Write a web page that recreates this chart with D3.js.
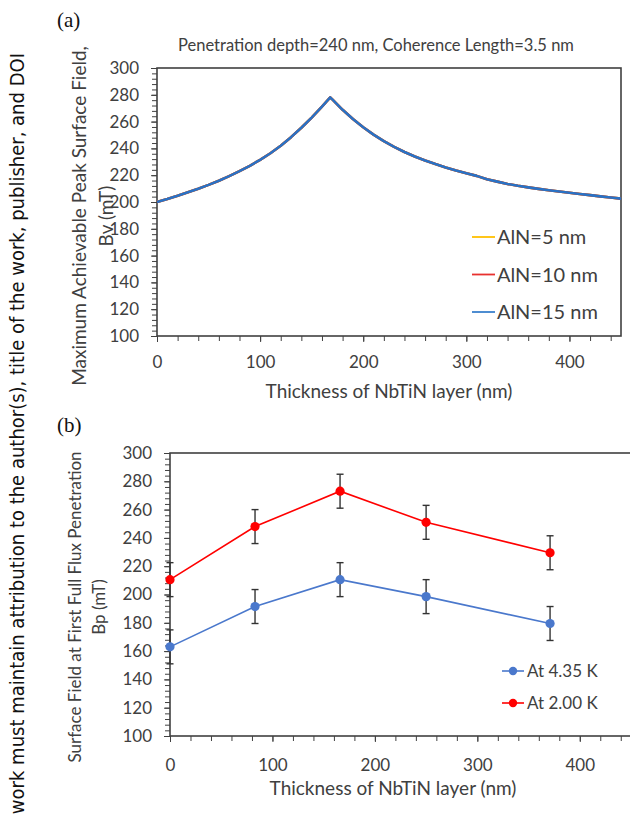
<!DOCTYPE html>
<html>
<head>
<meta charset="UTF-8">
<title>Peak Surface Field vs NbTiN thickness</title>
<script src="https://d3js.org/d3.v7.min.js"></script>
<style>
	body { margin: 0; background: #fff; }
	svg { display: block; }
</style>
</head>
<body>
<svg id="chart" width="630" height="814"></svg>
<script type="text/javascript">
	// panel (a): calculated Bv curve (the three AlN curves coincide)
	var thicknessA = [0, 10, 20, 30, 40, 50, 60, 70, 80, 90, 100, 110, 120, 130, 140, 150, 160, 168,
		170, 180, 190, 200, 210, 220, 230, 240, 250, 260, 270, 280, 290, 300, 310, 320, 330, 340,
		350, 360, 370, 380, 390, 400, 410, 420, 430, 440, 450];
	var bvCurve = [200, 202.2, 204.6, 207.2, 209.9, 212.8, 215.9, 219.3, 223, 227, 231.5, 236.4, 242, 248.4,
		255.4, 263, 271.2, 278, 276.6, 268.8, 262, 255.8, 250.3, 245.4, 241.1, 237.3, 234, 231, 228.3,
		225.8, 223.5, 221.4, 219.5, 217, 215.2, 213.5, 212.1, 210.9, 209.8, 208.8, 207.8, 206.9, 206,
		205.1, 204.2, 203.4, 202.5];
	var seriesNamesA = ["AlN=5 nm", "AlN=10 nm", "AlN=15 nm"];
	var seriesColorsA = ["#ffc000", "#e8312f", "#3a80cc"];

	// panel (b): measured Bp with error bars
	var thicknessB = [0, 83, 166, 250, 371];
	var bp435 = [163, 191.5, 210.5, 198.5, 179.5];
	var bp200 = [210.5, 248, 273, 251, 229.5];
	var bpErr = [12, 12, 12, 12, 12];
	var seriesNamesB = ["At 4.35 K", "At 2.00 K"];
	var seriesColorsB = ["#4a78cc", "#ff0000"];

	var xTicks = [0, 100, 200, 300, 400];
	var yTicks = [100, 120, 140, 160, 180, 200, 220, 240, 260, 280, 300];

	var chartFont = "Lato, 'Open Sans', sans-serif";
	var axisColor = "#404040";
	var textColor = "#404040";

	var svg = d3.select("#chart");

	// watermark along the left edge
	svg.append("text")
		.attr("transform", "translate(24,53) rotate(-90)")
		.attr("text-anchor", "end")
		.style("font-family", "'Liberation Sans Narrow', 'DejaVu Sans Condensed', sans-serif")
		.style("font-size", "20px")
		.attr("fill", "#111")
		.text("work must maintain attribution to the author(s), title of the work, publisher, and DOI");

	function drawFrame(g, x, y, opts)
	{
		var r = x.range(), b = y.range();

		// minor ticks
		g.append("g")
			.attr("transform", "translate(" + r[0] + ",0)")
			.call(d3.axisLeft(y).tickValues(d3.range(100, 301, 4)).tickSize(5).tickFormat(""))
			.call(function(a) { a.select(".domain").remove(); a.selectAll("line").attr("stroke", axisColor); });
		g.append("g")
			.attr("transform", "translate(0," + b[0] + ")")
			.call(d3.axisBottom(x).tickValues(d3.range(0, 451, 20)).tickSize(5).tickFormat(""))
			.call(function(a) { a.select(".domain").remove(); a.selectAll("line").attr("stroke", axisColor); });

		// labelled axes
		g.append("g")
			.attr("transform", "translate(" + r[0] + ",0)")
			.call(d3.axisLeft(y).tickValues(yTicks).tickSize(6).tickPadding(opts.yPad))
			.call(function(a)
			{
				a.select(".domain").remove();
				a.selectAll("line").attr("stroke", axisColor);
				a.selectAll("text").attr("fill", textColor).style("font-family", chartFont).style("font-size", "17px");
			});
		g.append("g")
			.attr("transform", "translate(0," + b[0] + ")")
			.call(d3.axisBottom(x).tickValues(xTicks).tickSize(6).tickPadding(opts.xPad))
			.call(function(a)
			{
				a.select(".domain").remove();
				a.selectAll("line").attr("stroke", axisColor);
				a.selectAll("text").attr("fill", textColor).style("font-family", chartFont).style("font-size", "17px");
			});

		// plot box
		g.append("rect")
			.attr("x", r[0]).attr("y", b[1])
			.attr("width", r[1] - r[0]).attr("height", b[0] - b[1])
			.attr("fill", "none").attr("stroke", axisColor).attr("stroke-width", 1.6);

		// x title
		g.append("text")
			.attr("x", opts.xTitleX).attr("y", opts.xTitleY)
			.attr("text-anchor", "middle")
			.attr("fill", textColor)
			.style("font-family", chartFont).style("font-size", "19px")
			.text("Thickness of NbTiN layer (nm)");

		// y title, two lines
		var yt = g.append("text")
			.attr("transform", "translate(" + opts.yTitleX + "," + opts.yTitleY + ") rotate(-90)")
			.attr("text-anchor", "middle")
			.attr("fill", textColor)
			.style("font-family", chartFont).style("font-size", opts.yFont);
		yt.append("tspan").attr("x", 0).attr("dy", 0).text(opts.yTitle1);
		yt.append("tspan").attr("x", 0).attr("dy", opts.yLineGap).text(opts.yTitle2);
	}

	// ---------- panel (a) ----------
	var xa = d3.scaleLinear().domain([0, 450]).range([157, 621]);
	var ya = d3.scaleLinear().domain([100, 300]).range([336, 68]);
	var ga = svg.append("g");

	svg.append("text")
		.attr("x", 57).attr("y", 27)
		.style("font-family", "'Liberation Serif', 'DejaVu Serif', serif")
		.style("font-size", "21px").attr("fill", "#111")
		.text("(a)");

	ga.append("text")
		.attr("x", 376).attr("y", 51)
		.attr("text-anchor", "middle")
		.attr("fill", textColor)
		.style("font-family", chartFont).style("font-size", "16.5px")
		.text("Penetration depth=240 nm, Coherence Length=3.5 nm");

	drawFrame(ga, xa, ya, {
		yPad: 12, xPad: 14,
		xTitleX: 389, xTitleY: 398,
		yTitleX: 86, yTitleY: 216, yLineGap: 27, yFont: "19px",
		yTitle1: "Maximum Achievable Peak Surface  Field,",
		yTitle2: "Bv (mT)"
	});

	var lineA = d3.line()
		.x(function(d) { return xa(d[0]); })
		.y(function(d) { return ya(d[1]); });

	var curvePts = thicknessA.map(function(t, i) { return [t, bvCurve[i]]; });

	seriesNamesA.forEach(function(name, i)
	{
		ga.append("path")
			.datum(curvePts)
			.attr("d", lineA)
			.attr("fill", "none")
			.attr("stroke", i == 2 ? "#2a72c4" : seriesColorsA[i])
			.attr("stroke-width", 2.6)
			.attr("stroke-linejoin", "round");

		var ly = 237 + i * 37.5;
		ga.append("line")
			.attr("x1", 472).attr("x2", 495)
			.attr("y1", ly).attr("y2", ly)
			.attr("stroke", seriesColorsA[i]).attr("stroke-width", 1.8);
		ga.append("text")
			.attr("x", 497).attr("y", ly)
			.attr("dy", "0.35em")
			.attr("fill", textColor)
			.style("font-family", chartFont).style("font-size", "20px")
			.text(name);
	});

	// ---------- panel (b) ----------
	var xb = d3.scaleLinear().domain([0, 450]).range([170, 631]);
	var yb = d3.scaleLinear().domain([100, 300]).range([736, 453]);
	var gb = svg.append("g");

	svg.append("text")
		.attr("x", 57).attr("y", 432)
		.style("font-family", "'Liberation Serif', 'DejaVu Serif', serif")
		.style("font-size", "21px").attr("fill", "#111")
		.text("(b)");

	drawFrame(gb, xb, yb, {
		yPad: 12, xPad: 17,
		xTitleX: 393, xTitleY: 795,
		yTitleX: 81, yTitleY: 607, yLineGap: 24, yFont: "17px",
		yTitle1: "Surface Field at First Full Flux Penetration",
		yTitle2: "Bp (mT)"
	});

	var lineB = d3.line()
		.x(function(d) { return xb(d.x); })
		.y(function(d) { return yb(d.y); });

	[bp435, bp200].forEach(function(vals, s)
	{
		var pts = thicknessB.map(function(t, i) { return { x: t, y: vals[i], e: bpErr[i] }; });
		var color = seriesColorsB[s];

		gb.append("path")
			.datum(pts)
			.attr("d", lineB)
			.attr("fill", "none")
			.attr("stroke", color)
			.attr("stroke-width", 1.6);

		var eb = gb.selectAll("g.err" + s)
			.data(pts)
			.enter().append("g")
			.attr("stroke", "#333")
			.attr("stroke-width", 1.4);
		eb.append("line")
			.attr("x1", function(d) { return xb(d.x); })
			.attr("x2", function(d) { return xb(d.x); })
			.attr("y1", function(d) { return yb(d.y - d.e); })
			.attr("y2", function(d) { return yb(d.y + d.e); });
		eb.append("line")
			.attr("x1", function(d) { return xb(d.x) - 3.5; })
			.attr("x2", function(d) { return xb(d.x) + 3.5; })
			.attr("y1", function(d) { return yb(d.y + d.e); })
			.attr("y2", function(d) { return yb(d.y + d.e); });
		eb.append("line")
			.attr("x1", function(d) { return xb(d.x) - 3.5; })
			.attr("x2", function(d) { return xb(d.x) + 3.5; })
			.attr("y1", function(d) { return yb(d.y - d.e); })
			.attr("y2", function(d) { return yb(d.y - d.e); });

		gb.selectAll("circle.pt" + s)
			.data(pts)
			.enter().append("circle")
			.attr("cx", function(d) { return xb(d.x); })
			.attr("cy", function(d) { return yb(d.y); })
			.attr("r", 4.6)
			.attr("fill", color);

		// legend
		var ly = 671 + s * 32;
		gb.append("line")
			.attr("x1", 502).attr("x2", 524)
			.attr("y1", ly).attr("y2", ly)
			.attr("stroke", color).attr("stroke-width", 1.6);
		gb.append("circle")
			.attr("cx", 513).attr("cy", ly).attr("r", 4.2)
			.attr("fill", color);
		gb.append("text")
			.attr("x", 527).attr("y", ly)
			.attr("dy", "0.35em")
			.attr("fill", textColor)
			.style("font-family", chartFont).style("font-size", "17px")
			.text(seriesNamesB[s]);
	});
</script>
</body>
</html>
